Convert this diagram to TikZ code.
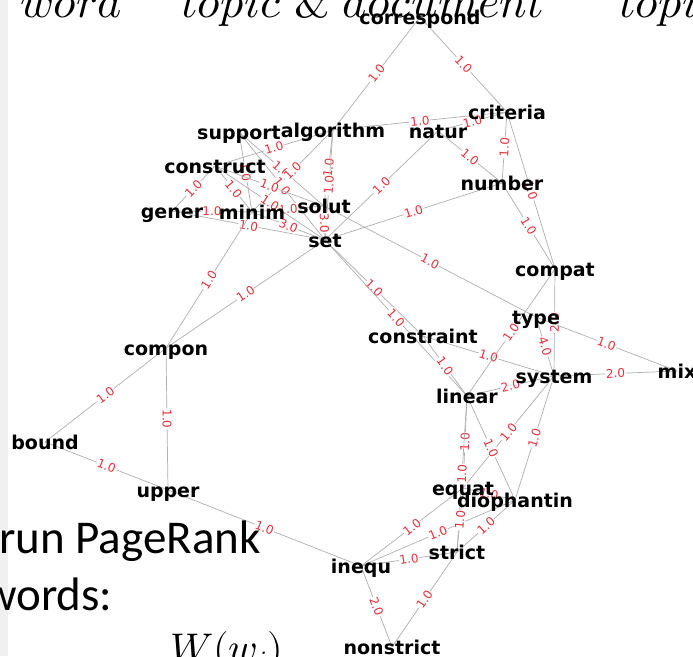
\documentclass[tikz,border=0pt]{standalone}
\usepackage{unicode-math}
\setmathfont{Latin Modern Math}
\newfontfamily\gfont{DejaVu Sans}
\newfontfamily\slidefont{Carlito}
\definecolor{edgegray}{RGB}{175,175,175}
\definecolor{lblred}{RGB}{230,50,60}
\definecolor{stripgray}{RGB}{240,240,240}
\tikzset{
  edge/.style={draw=edgegray, line width=0.7pt},
  wlabel/.style={midway, sloped, fill=white, inner sep=0.8pt, text=lblred,
    font=\gfont\fontsize{12}{12}\selectfont},
  word/.style={anchor=base, yshift=-7pt, inner sep=0pt,
    font=\gfont\bfseries\fontsize{19}{19}\selectfont},
  slide/.style={anchor=base west, inner sep=0pt,
    font=\slidefont\fontsize{47}{47}\selectfont},
  slidemath/.style={anchor=base west, inner sep=0pt,
    font=\fontsize{46}{46}\selectfont},
}
\begin{document}
\begin{tikzpicture}[x=1pt,y=-1pt]
\useasboundingbox (0,0) rectangle (693,656);
\clip (0,0) rectangle (693,656);
\fill[white] (0,0) rectangle (693,656);
\fill[stripgray] (0,0) rectangle (8,656);

% word positions
\coordinate (correspond) at (420,17);
\coordinate (criteria)   at (507,112);
\coordinate (natur)      at (438,131);
\coordinate (algorithm)  at (333,130);
\coordinate (support)    at (239,132);
\coordinate (construct)  at (215,166);
\coordinate (number)     at (502,183);
\coordinate (gener)      at (172,211);
\coordinate (minim)      at (252,212);
\coordinate (solut)      at (324,206);
\coordinate (set)        at (325,240);
\coordinate (compat)     at (555,269);
\coordinate (type)       at (536,317);
\coordinate (constraint) at (423,336);
\coordinate (compon)     at (166,348);
\coordinate (system)     at (554,376);
\coordinate (mix)        at (677,371);
\coordinate (linear)     at (467,396);
\coordinate (bound)      at (45,442);
\coordinate (upper)      at (168,490);
\coordinate (equat)      at (463,488);
\coordinate (diophantin) at (515,500);
\coordinate (strict)     at (457,552);
\coordinate (inequ)      at (361,566);
\coordinate (nonstrict)  at (392,647);

% weighted co-occurrence edges
\foreach \a/\b/\w in {
  correspond/algorithm/1.0, correspond/criteria/1.0, algorithm/criteria/1.0,
  natur/criteria/1.0, natur/number/1.0, criteria/number/1.0,
  criteria/compat/1.0, number/compat/1.0, number/set/1.0, natur/set/1.0,
  solut/type/1.0, algorithm/solut/1.0, algorithm/set/1.0, solut/set/3.0,
  construct/algorithm/1.0, support/solut/1.0, minim/algorithm/1.0,
  gener/construct/1.0, gener/minim/1.0, support/minim/1.0,
  construct/minim/1.0, support/set/1.0, construct/solut/1.0,
  minim/solut/1.0, construct/set/1.0, gener/set/1.0, minim/set/3.0,
  compon/minim/1.0, compon/set/1.0, compon/bound/1.0, compon/upper/1.0,
  bound/upper/1.0, upper/inequ/1.0,
  set/constraint/1.0, set/linear/1.0, constraint/linear/1.0,
  constraint/system/1.0, linear/compat/1.0, linear/system/2.0,
  compat/system/2.0, type/system/4.0, type/mix/1.0, system/mix/2.0,
  system/equat/1.0, system/diophantin/1.0, linear/diophantin/1.0,
  linear/equat/1.0, linear/strict/1.0, equat/diophantin/1.0,
  inequ/equat/1.0, inequ/diophantin/1.0, strict/equat/1.0,
  strict/diophantin/1.0, inequ/strict/1.0, strict/nonstrict/1.0,
  inequ/nonstrict/2.0}
  \draw[edge] (\a) -- node[wlabel] {\w} (\b);

% word labels
\foreach \n in {correspond, criteria, natur, algorithm, support, construct,
  number, gener, minim, solut, set, compat, type, constraint, compon, system,
  mix, linear, bound, upper, equat, diophantin, strict, inequ, nonstrict}
  \node[word] (\n-t) at (\n) {\n};

% slide text around the graph
\node[slidemath] (hw) at (20,17) {$word$};
\node[slidemath] (ht) at (181,17) {$topic\;\&\;document$};
\node[slidemath] (hp) at (619,17) {$topi$};
\node[slide] (pr) at (-1,553) {run PageRank};
\node[slide] (wd) at (-17,610) {words:};
\node[slidemath, font=\fontsize{40}{40}\selectfont] (fw) at (170,661) {$W(w_i)$};
\end{tikzpicture}
\end{document}
